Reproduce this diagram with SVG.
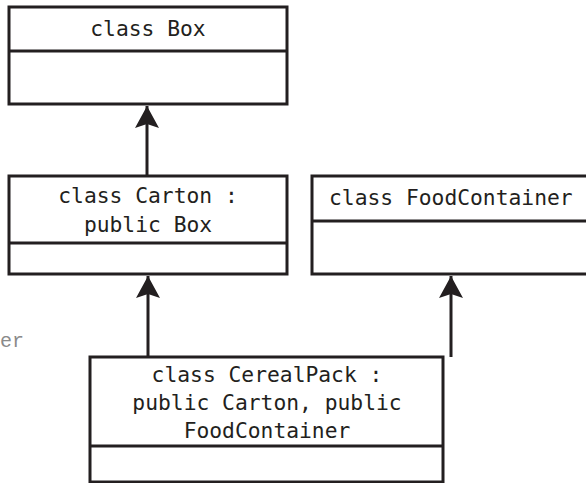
<svg xmlns="http://www.w3.org/2000/svg" width="586" height="483" viewBox="0 0 586 483">
<style>
.box{fill:#fff;stroke:#231f20;stroke-width:3}
.div{stroke:#231f20;stroke-width:3}
.t{font-family:"DejaVu Sans Mono","Liberation Mono",monospace;font-size:21.3px;fill:#231f20;text-anchor:middle}
.edge{stroke:#231f20;stroke-width:3;fill:none;marker-end:url(#ah)}
.frag{font-family:"Liberation Mono","Courier New",monospace;font-size:20px;fill:#8a8a8a}
</style>
<defs>
<marker id="ah" markerUnits="userSpaceOnUse" markerWidth="26" markerHeight="24" viewBox="0 0 26 24" refX="24" refY="12" orient="auto">
<path d="M24,12 L2,0 L6,12 L2,24 Z" fill="#231f20"/>
</marker>
</defs>
<text class="frag" x="0" y="347">er</text>
<g id="connectors">
<line class="edge" x1="147" y1="176" x2="147" y2="106"/>
<line class="edge" x1="148" y1="357" x2="148" y2="276"/>
<line class="edge" x1="451" y1="357" x2="451" y2="276"/>
</g>
<g id="box">
<rect class="box" x="9" y="7" width="278" height="97"/>
<line class="div" x1="9" y1="51" x2="287" y2="51"/>
<text class="t" x="148" y="36">class Box</text>
</g>
<g id="carton">
<rect class="box" x="9" y="176" width="278" height="98"/>
<line class="div" x1="9" y1="243" x2="287" y2="243"/>
<text class="t" x="148" y="203">class Carton :</text>
<text class="t" x="148" y="232">public Box</text>
</g>
<g id="foodcontainer">
<rect class="box" x="312" y="176" width="290" height="98"/>
<line class="div" x1="312" y1="221" x2="600" y2="221"/>
<text class="t" x="329" y="205" style="text-anchor:start">class FoodContainer</text>
</g>
<g id="cerealpack">
<rect class="box" x="90" y="357" width="353" height="125"/>
<line class="div" x1="90" y1="446" x2="443" y2="446"/>
<text class="t" x="267" y="382">class CerealPack :</text>
<text class="t" x="267" y="410">public Carton, public</text>
<text class="t" x="267" y="438">FoodContainer</text>
</g>
</svg>
